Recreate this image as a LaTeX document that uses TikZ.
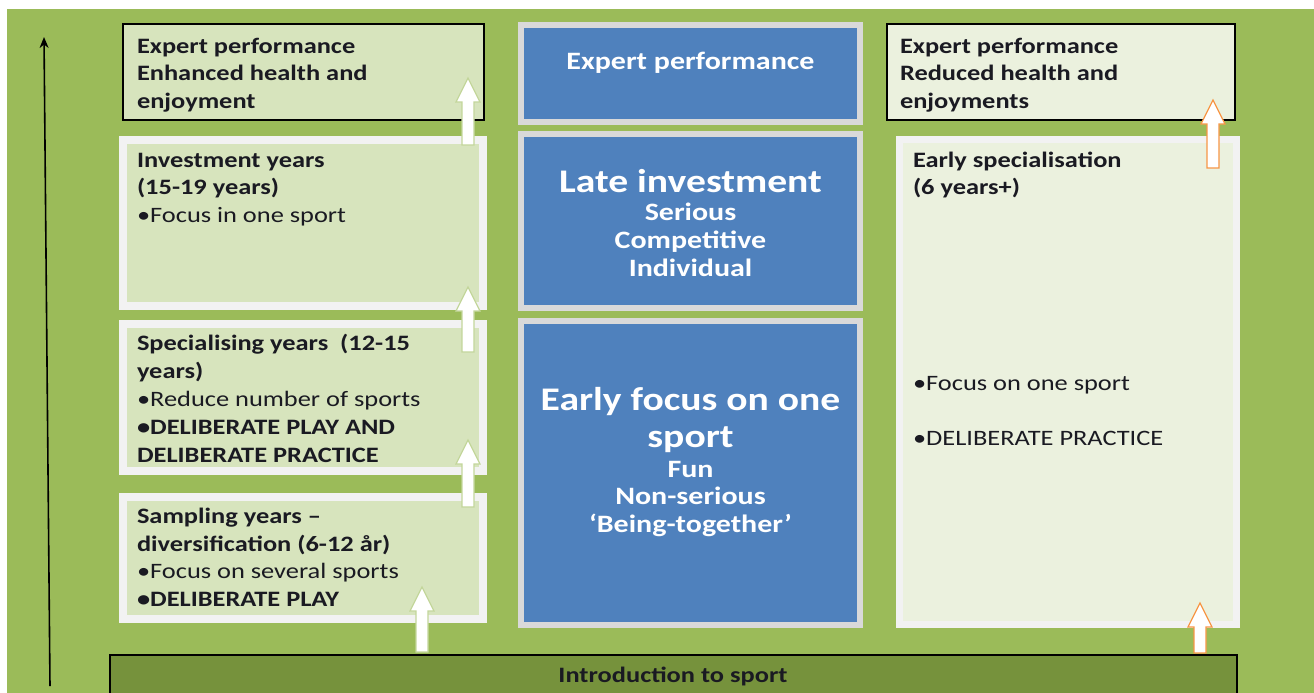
\documentclass[tikz,border=0pt]{standalone}
\usepackage{fontspec}
\setmainfont[FakeStretch=1.2]{Carlito}
\usetikzlibrary{arrows.meta,shadows}
\definecolor{bggreen}{HTML}{9BBB59}
\definecolor{lightfill}{HTML}{D7E4BD}
\definecolor{paleFill}{HTML}{EBF1DE}
\definecolor{frameGray}{HTML}{F2F2F2}
\definecolor{blueFill}{HTML}{4F81BD}
\definecolor{blueFrame}{HTML}{D9D9D9}
\definecolor{barGreen}{HTML}{76923C}
\definecolor{arrGreen}{HTML}{C3D69B}
\definecolor{arrOrange}{HTML}{F79646}
\definecolor{txt}{HTML}{1A1A22}
\newcommand\blockarrow[4]{% x, bottom y, tip y, colour
  \draw[#4, line width=1.2pt, fill=white, line join=miter]
    (#1-6,#2) -- (#1-6,#3+24) -- (#1-12,#3+24) -- (#1,#3) -- (#1+12,#3+24) -- (#1+6,#3+24) -- (#1+6,#2) -- cycle;}
\begin{document}
\begin{tikzpicture}[x=1pt,y=-1pt,
  every node/.style={inner sep=0pt, outer sep=0pt},
  blackbox/.style={draw=black, line width=1.3pt, anchor=north west},
  framebox/.style={draw=frameGray, line width=8pt, fill=lightfill, anchor=north west,
    drop shadow={shadow xshift=2pt, shadow yshift=-2pt, opacity=0.35, fill=black!70!bggreen}},
  bluebox/.style={draw=blueFrame, line width=6pt, fill=blueFill, anchor=north west},
  lefttext/.style={anchor=base west, align=left, text=txt, font=\fontsize{22}{27.5}\selectfont},
  bigwhite/.style={anchor=base, align=center, text=white, font=\bfseries\fontsize{33}{37}\selectfont},
  smallwhite/.style={anchor=base, align=center, text=white, font=\bfseries\fontsize{25}{28}\selectfont}]
\useasboundingbox (0,0) rectangle (1314,693);
\fill[white] (0,0) rectangle (1314,693);
\fill[bggreen] (7,9) rectangle (1314,693);

% bottom bar
\node[draw=black, line width=1.3pt, fill=barGreen, anchor=north west, minimum width=1127pt, minimum height=45pt] (bar) at (110,655) {};
\node[anchor=base, text=txt, font=\bfseries\fontsize{22}{27}\selectfont] (bartext) at (673,682) {Introduction to sport};

% time axis
\coordinate (axb) at (50,686);
\coordinate (axt) at (44,37);
\draw[-{Stealth[length=11pt,width=9pt]}, line width=1.6pt] (axb) -- (axt);

% left column
\node[blackbox, fill=lightfill, minimum width=361pt, minimum height=96pt] (lexp) at (123,24) {};
\node[framebox, minimum width=360pt, minimum height=166pt] (linv) at (123,140) {};
\node[framebox, minimum width=360pt, minimum height=147pt] (lspec) at (123,324) {};
\node[framebox, minimum width=360pt, minimum height=122pt] (lsamp) at (123,497) {};

% (base anchor of a multi-line node = baseline of its last line)
\node[lefttext] (tlexp) at (137,108) {\bfseries Expert performance\\\bfseries Enhanced health and\\\bfseries enjoyment};
\node[lefttext] (tlinv) at (137,222) {\bfseries Investment years\\\bfseries (15-19 years)\\•Focus in one sport};
\node[lefttext, font=\fontsize{22}{28}\selectfont] (tlspec) at (137,462) {\bfseries Specialising years\ \ (12-15\\\bfseries years)\\•Reduce number of sports\\\bfseries •DELIBERATE PLAY AND\\\bfseries DELIBERATE PRACTICE};
\node[lefttext] (tlsamp) at (137,606) {\bfseries Sampling years –\\\bfseries diversification (6-12 år)\\•Focus on several sports\\\bfseries •DELIBERATE PLAY};

% centre column
\node[bluebox, minimum width=339pt, minimum height=97pt] (cexp) at (521,25) {};
\node[bluebox, minimum width=339pt, minimum height=174pt] (clate) at (521,134) {};
\node[bluebox, minimum width=339pt, minimum height=304pt] (cearly) at (521,321) {};

\node[smallwhite] (tcexp) at (690.5,70) {Expert performance};
\node[bigwhite] (tclate) at (690.5,192) {Late investment};
\node[smallwhite] (tclate2) at (690.5,276) {Serious\\Competitive\\Individual};
\node[bigwhite] (tcearly) at (690.5,447) {Early focus on one\\sport};
\node[smallwhite, font=\bfseries\fontsize{25}{27.5}\selectfont] (tcearly2) at (690.5,532) {Fun\\Non-serious\\‘Being-together’};

% right column
\node[blackbox, fill=paleFill, minimum width=348pt, minimum height=96pt] (rexp) at (887,24) {};
\node[framebox, draw=frameGray, line width=7pt, fill=paleFill, minimum width=337pt, minimum height=485pt] (rspec) at (899.5,139.5) {};

\node[lefttext] (trexp) at (900,108) {\bfseries Expert performance\\\bfseries Reduced health and\\\bfseries enjoyments};
\node[lefttext] (trspec) at (913,194.5) {\bfseries Early specialisation\\\bfseries (6 years+)};
\node[lefttext] (trb1) at (913,390) {•Focus on one sport};
\node[lefttext] (trb2) at (913,445) {•DELIBERATE PRACTICE};

% block arrows
\blockarrow{468}{145}{78}{arrGreen}
\blockarrow{468}{352}{287}{arrGreen}
\blockarrow{468}{507}{440}{arrGreen}
\blockarrow{422}{652}{587}{arrGreen}
\blockarrow{1213}{168}{100}{arrOrange}
\blockarrow{1200}{653}{603}{arrOrange}
\end{tikzpicture}
\end{document}
